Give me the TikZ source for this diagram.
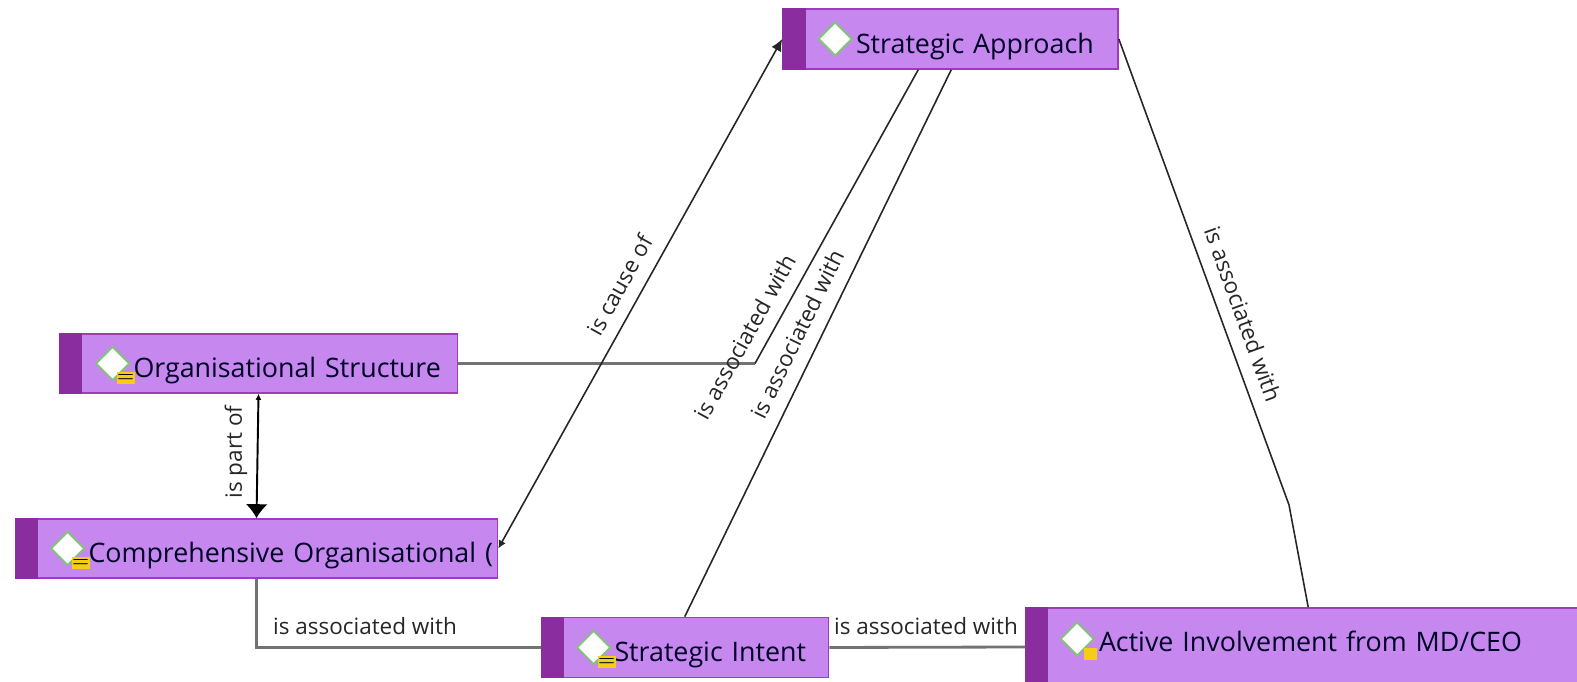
\documentclass[tikz,border=0pt]{standalone}
\usepackage{fontspec}
\setmainfont{Open Sans}
\usepackage{xcolor}
\usetikzlibrary{positioning,shapes.geometric,arrows.meta}
\definecolor{conceptfill}{RGB}{198,135,238}
\definecolor{conceptband}{RGB}{138,45,158}
\definecolor{conceptedge}{RGB}{160,60,185}
\definecolor{noteyellow}{RGB}{245,205,20}
\definecolor{icongreen}{RGB}{130,195,120}
\tikzset{
	concept/.style={draw=conceptedge,fill=conceptfill,line width=0.45pt,inner sep=0pt,minimum height=1.7cm,align=left,font=\fontsize{7.63}{10}\selectfont,text=black!85!blue,text height=8pt,text depth=0pt},
	band/.style={fill=conceptband},
	icon/.style={draw=icongreen,fill=white,line width=0.55pt,shape=diamond,inner sep=0pt,minimum width=0.34cm,minimum height=0.34cm},
	note/.style={fill=noteyellow,inner sep=0pt,minimum width=0.13cm,minimum height=0.12cm},
	link/.style={black!85,line width=0.45pt},
	hlink/.style={black!55,line width=0.8pt},
	linklabel/.style={font=\fontsize{6.4}{8}\selectfont,text=black!85,inner sep=0pt},
}
\begin{document}
\begin{tikzpicture}[transform shape,scale=1]
	\useasboundingbox (0,0) rectangle (15.77,6.82);
	% concepts
	\node[concept,minimum width=3.35cm,minimum height=0.60cm,text width=3.35cm] (appr) at (9.505,6.43) {\hspace*{0.73cm}\mbox{Strategic Approach}};
	\node[concept,minimum width=3.98cm,minimum height=0.59cm,text width=3.98cm] (orgstr) at (2.585,3.185) {\hspace*{0.74cm}\mbox{Organisational Structure}};
	\node[concept,minimum width=4.82cm,minimum height=0.59cm,text width=4.82cm] (comp) at (2.565,1.335) {\hspace*{0.73cm}\mbox{Comprehensive Organisational (}};
	\node[concept,minimum width=2.87cm,minimum height=0.60cm,text width=2.87cm] (intent) at (6.85,0.345) {\hspace*{0.73cm}\mbox{Strategic Intent}};
	\node[concept,minimum width=5.64cm,minimum height=0.78cm,text width=5.64cm] (active) at (13.08,0.35) {\hspace*{0.73cm}\raisebox{0.095cm}{Active Involvement from MD/CEO}};
	\fill[band] (appr.north west) rectangle ([xshift=0.24cm]appr.south west);
	\fill[band] (orgstr.north west) rectangle ([xshift=0.23cm]orgstr.south west);
	\fill[band] (comp.north west) rectangle ([xshift=0.23cm]comp.south west);
	\fill[band] (intent.north west) rectangle ([xshift=0.23cm]intent.south west);
	\fill[band] (active.north west) rectangle ([xshift=0.23cm]active.south west);
	\node[icon] (appricon) at ([xshift=0.53cm]appr.west) {};
	\node[icon] (orgstricon) at ([xshift=0.54cm]orgstr.west) {};
	\node[icon] (compicon) at ([xshift=0.53cm]comp.west) {};
	\node[icon] (intenticon) at ([xshift=0.53cm]intent.west) {};
	\node[icon] (activeicon) at ([xshift=0.52cm,yshift=0.08cm]active.west) {};
	\node[note] (orgstrnote) at ([xshift=0.13cm,yshift=-0.15cm]orgstricon.center) {$\scriptscriptstyle=$};
	\node[note] (compnote) at ([xshift=0.13cm,yshift=-0.15cm]compicon.center) {$\scriptscriptstyle=$};
	\node[note] (intentnote) at ([xshift=0.13cm,yshift=-0.15cm]intenticon.center) {$\scriptscriptstyle=$};
	\node[note] (activenote) at ([xshift=0.13cm,yshift=-0.15cm]activeicon.center) {};
	% connectors
	\coordinate (orgbend) at (7.55,3.185);
	\coordinate (activebend) at (12.89,1.77);
	\draw[hlink] (orgstr.east) -- (orgbend);
	\draw[link] (orgbend) -- ([xshift=1.36cm]appr.south west);
	\draw[link] ([xshift=1.44cm]intent.north west) -- ([xshift=1.69cm]appr.south west);
	\draw[link] (appr.east) -- (activebend) -- ([xshift=2.83cm]active.north west);
	\draw[link,{Latex[length=0.8mm,width=0.8mm]}-{Latex[length=1.2mm,width=1.1mm]}] (comp.east) -- (appr.west);
	\draw[black,line width=0.55pt,{Latex[length=0.6mm,width=0.6mm]}-{Latex[length=1.4mm,width=2.2mm]}] (orgstr.south) -- (comp.north);
	\draw[hlink] (comp.south) |- (intent.west);
	\draw[hlink] (intent.east) -- (active.west);
	\node[linklabel,rotate=61] (causelabel) at (6.20,3.97) {is cause of};
	\node[linklabel,rotate=61] (orglabel) at (7.45,3.45) {is associated with};
	\node[linklabel,rotate=64] (intentlabel) at (7.97,3.48) {is associated with};
	\node[linklabel,rotate=-70] (activelabel) at (12.43,3.68) {is associated with};
	\node[linklabel,rotate=90] (partlabel) at (2.36,2.30) {is part of};
	\node[linklabel] (complabel) at (3.65,0.56) {is associated with};
	\node[linklabel] (intentactivelabel) at (9.26,0.56) {is associated with};
\end{tikzpicture}
\end{document}
